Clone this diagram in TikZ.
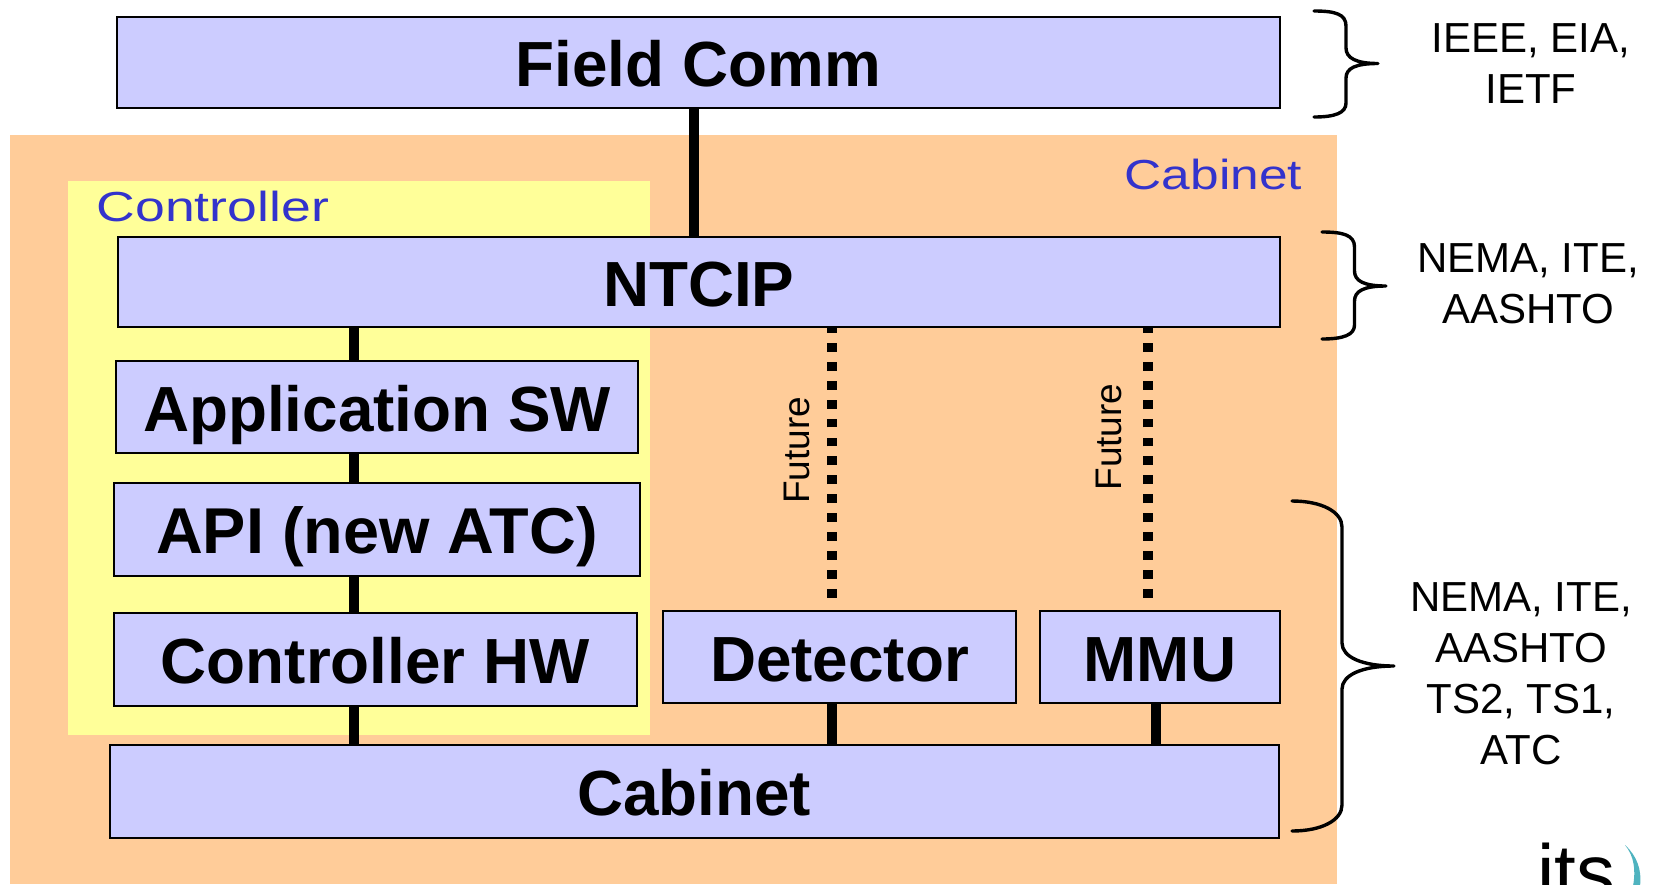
\documentclass[tikz,border=0pt]{standalone}
\usepackage{fontspec}
\setmainfont{Liberation Sans}
\definecolor{cabfill}{HTML}{FFCC99}
\definecolor{ctlfill}{HTML}{FFFF99}
\definecolor{boxfill}{HTML}{CCCCFF}
\definecolor{lblblue}{HTML}{3333CC}
\definecolor{arc}{HTML}{4FB3BF}
\tikzset{
  layerbox/.style={draw=black,line width=2pt,fill=boxfill,inner sep=0pt,anchor=center,text height=48pt,text depth=0pt,font=\fontsize{63.8}{70}\selectfont\bfseries},
  solidlink/.style={line width=9.5pt,draw=black},
  dotlink/.style={line width=9.5pt,draw=black,dash pattern=on 8.8pt off 10.1pt},
  bracket/.style={line width=3.4pt,draw=black,line cap=round,line join=round},
  stdtext/.style={align=center,font=\fontsize{42}{51}\selectfont,inner sep=0pt,anchor=base},
  arealabel/.style={text=lblblue,font=\fontsize{42}{50}\selectfont,inner sep=0pt,anchor=base west,transform shape},
  futurelabel/.style={font=\fontsize{37}{40}\selectfont,inner sep=0pt,rotate=90,anchor=base}
}
\newcommand{\lbox}[6]{% name, x0,y0,x1,y1,text
  \node[layerbox,minimum width={(#4-#2)*1pt},minimum height={(#5-#3)*1pt}] (#1) at ({(#2+#4)/2},{(#3+#5)/2}) {#6};}
\begin{document}
\begin{tikzpicture}[x=1pt,y=-1pt]
\useasboundingbox (0,0) rectangle (1659,884);
\fill[cabfill] (10,135) rectangle (1337,884);
\fill[ctlfill] (68,181) rectangle (650,735);
\lbox{field}{116.5}{17}{1280}{108}{Field Comm}
\lbox{ntcip}{117.5}{237}{1280}{327}{NTCIP}
\lbox{app}{116}{361}{638}{453}{Application SW}
\lbox{api}{114}{483}{640}{576}{\fontsize{64.8}{70}\selectfont API (new ATC)}
\lbox{hw}{114}{613}{636.5}{706}{Controller HW}
\lbox{det}{663}{611}{1016}{703}{Detector}
\lbox{mmu}{1040}{611}{1280}{703}{MMU}
\lbox{cab}{110}{745}{1278.5}{838}{Cabinet}
\coordinate (detend) at (832,597.5);
\coordinate (mmuend) at (1148,597.5);
\draw[solidlink] (694,0 |- field.south) -- (694,0 |- ntcip.north);
\draw[solidlink] (354,0 |- ntcip.south) -- (354,0 |- app.north);
\draw[solidlink] (354,0 |- app.south) -- (354,0 |- api.north);
\draw[solidlink] (354,0 |- api.south) -- (354,0 |- hw.north);
\draw[solidlink] (354,0 |- hw.south) -- (354,0 |- cab.north);
\draw[solidlink] (832,0 |- det.south) -- (832,0 |- cab.north);
\draw[solidlink] (1156,0 |- mmu.south) -- (1156,0 |- cab.north);
\draw[dotlink] (detend) -- (detend |- ntcip.south);
\draw[dotlink] (mmuend) -- (mmuend |- ntcip.south);
\node[futurelabel] (f1) at (809,450.5) {Future};
\node[futurelabel] (f2) at (1121,437) {Future};
\node[arealabel,xscale=1.275] (ctl) at (96.5,221) {Controller};
\node[arealabel,xscale=1.225] (cabl) at (1124.5,189) {Cabinet};
% braces
\draw[bracket] (1314,11) .. controls (1335,11) and (1346,14) .. (1346,26) -- (1346,48)
  .. controls (1346,58) and (1356,63.5) .. (1378,63.5)
  .. controls (1356,63.5) and (1346,68) .. (1346,78) -- (1346,103)
  .. controls (1346,113) and (1335,117) .. (1314,117);
\draw[bracket] (1322,232) .. controls (1343,232) and (1354.5,235) .. (1354.5,247) -- (1354.5,271)
  .. controls (1354.5,281) and (1364,286) .. (1386,286)
  .. controls (1364,286) and (1354.5,291) .. (1354.5,301) -- (1354.5,325)
  .. controls (1354.5,335) and (1343,339) .. (1322,339);
\draw[bracket] (1292,501) .. controls (1322,501) and (1342,512) .. (1342,527) -- (1342,643)
  .. controls (1342,657) and (1362,666) .. (1394,666)
  .. controls (1362,666) and (1342,675) .. (1342,689) -- (1342,805)
  .. controls (1342,820) and (1322,831) .. (1292,831);
% standards
\node[stdtext] (s1) at (1531,103) {IEEE, EIA,\\IETF};
\node[stdtext] (s2) at (1528,323) {NEMA, ITE,\\AASHTO};
\node[stdtext] (s3) at (1521,764) {NEMA, ITE,\\AASHTO\\TS2, TS1,\\ATC};
% logo
\begin{scope}
\clip (1500,820) rectangle (1659,884);
\node[inner sep=0pt,anchor=base west,font=\fontsize{78}{80}\selectfont] (its) at (1537,899) {its};
\fill[arc] (1625,845) .. controls (1637,856) and (1642,870) .. (1640,886) -- (1633,886) .. controls (1636,870) and (1634,856) .. (1625,845) -- cycle;
\end{scope}
\end{tikzpicture}
\end{document}
